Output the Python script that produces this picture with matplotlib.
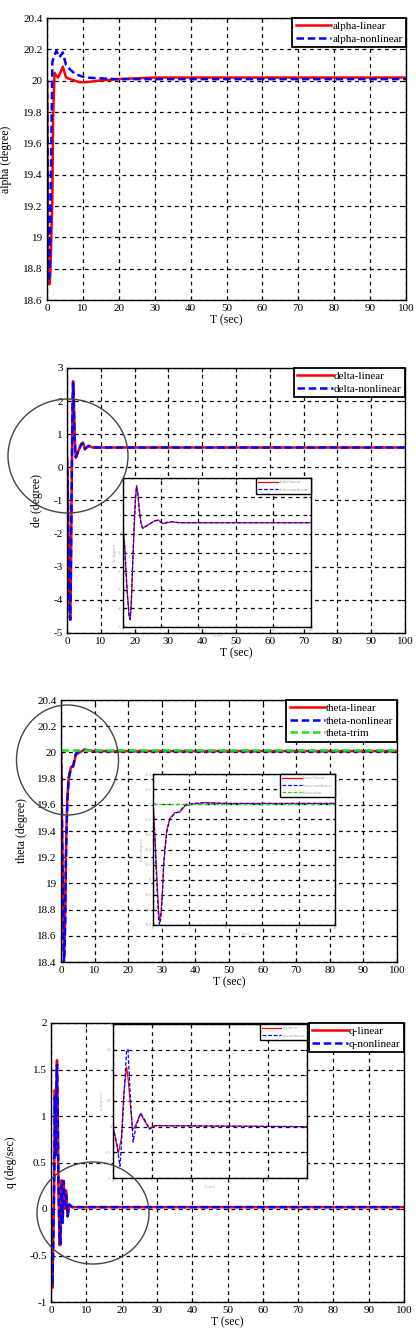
import numpy as np
import matplotlib.pyplot as plt
from matplotlib.patches import Ellipse
from matplotlib.ticker import FormatStrFormatter

plt.rcParams['font.family'] = ['Liberation Serif', 'DejaVu Serif']

# alpha
alpha_t = [0, 0.3, 0.65, 0.9, 1.2, 1.5, 1.7, 2.1, 2.6, 3.1, 3.7, 4.4, 5.3, 6.5, 9.0, 10.8, 14.5, 20, 30, 100]
alpha_lin = [20.0, 18.85, 18.7, 18.75, 19.0, 19.26, 19.76, 20.05, 20.03, 20.02, 20.05, 20.09, 20.02, 20.01, 19.99, 19.99, 20.0, 20.01, 20.02, 20.02]
alpha_nl_t = [0, 0.25, 0.5, 0.8, 1.1, 1.5, 2.0, 2.6, 3.5, 4.4, 5.3, 6.5, 8.0, 10.8, 19, 100]
alpha_nl = [20.0, 19.3, 18.72, 18.8, 19.4, 20.12, 20.16, 20.19, 20.15, 20.18, 20.1, 20.07, 20.04, 20.02, 20.01, 20.01]

# delta
delta_t = [0, 0.2, 0.4, 0.6, 0.8, 0.95, 1.1, 1.3, 1.5, 1.65, 1.8, 2.0, 2.2, 2.4, 2.6, 3.0, 3.6, 4.2, 4.7, 5.3, 5.9, 6.5, 7.5, 100]
delta_lin = [0.3, -0.5, -2.0, -3.3, -4.3, -4.6, -3.8, -1.5, 0.5, 1.8, 2.6, 2.1, 1.2, 0.6, 0.3, 0.4, 0.55, 0.7, 0.75, 0.55, 0.6, 0.65, 0.6, 0.6]
delta_nl = [0.3, -0.5, -2.1, -3.4, -4.4, -4.6, -3.7, -1.4, 0.6, 1.9, 2.55, 2.0, 1.1, 0.55, 0.3, 0.4, 0.55, 0.7, 0.72, 0.55, 0.62, 0.65, 0.6, 0.6]

# theta
theta_t = [0, 0.15, 0.3, 0.45, 0.6, 0.75, 0.9, 1.1, 1.3, 1.45, 1.65, 1.9, 2.3, 3.0, 3.6, 3.9, 4.4, 5.5, 7.0, 10, 100]
theta_lin = [20.0, 19.8, 19.5, 19.2, 18.9, 18.62, 18.45, 18.57, 18.85, 19.2, 19.43, 19.66, 19.81, 19.89, 19.89, 19.92, 19.98, 20.0, 20.02, 20.01, 20.01]
theta_nl = [20.0, 19.75, 19.45, 19.1, 18.8, 18.5, 18.4, 18.5, 18.8, 19.15, 19.4, 19.63, 19.8, 19.88, 19.9, 19.93, 19.99, 20.01, 20.02, 20.01, 20.01]
trim_t = [0, 100]
theta_trim = [20.02, 20.02]

# q (main)
q_t = [0, 0.2, 0.4, 0.65, 0.9, 1.1, 1.3, 1.5, 1.7, 1.9, 2.1, 2.4, 2.7, 3.0, 3.3, 3.6, 3.9, 4.3, 4.7, 5.2, 6.0, 100]
q_lin = [0, -0.6, -0.85, -0.3, 0.3, 1.28, 0.6, 1.3, 1.6, 1.03, 0.3, -0.39, -0.35, 0.31, -0.1, 0.3, 0.0, 0.2, -0.05, 0.04, 0.02, 0.02]
q_nl = [0, -0.55, -0.82, -0.35, 0.25, 1.2, 0.55, 1.25, 1.55, 1.05, 0.35, -0.3, -0.38, 0.25, -0.15, 0.3, 0.05, 0.15, -0.08, 0.05, 0.02, 0.02]
# q (inset)
qi_t = [0, 0.34, 0.69, 0.9, 1.1, 1.33, 1.55, 1.76, 1.97, 2.19, 2.53, 2.83, 3.13, 3.56, 4.1, 4.7, 5.4, 25]
qi_lin = [0, -0.25, -0.52, -0.36, -0.2, 0.5, 0.9, 1.16, 0.9, 0.52, -0.06, 0.0, 0.1, 0.26, 0.1, -0.03, 0.02, 0.0]
qi_nl_t = [0, 0.45, 0.9, 1.1, 1.4, 1.76, 1.93, 2.1, 2.3, 2.6, 2.95, 3.56, 4.1, 4.7, 5.4, 25]
qi_nl = [0, -0.3, -0.77, -0.3, 0.55, 1.5, 1.5, 0.97, 0.39, -0.3, 0.0, 0.26, 0.13, -0.05, 0.02, 0.0]

x_ticks = np.arange(0, 101, 10)
inset_xticks = np.arange(0, 26, 5)

W, H = 416, 1332
fig = plt.figure(figsize=(W / 100, H / 100), dpi=100)


def box(x0, y0, x1, y1):
    return [x0 / W, 1 - y1 / H, (x1 - x0) / W, (y1 - y0) / H]


GRID = dict(color='black', linestyle=(0, (3, 3)), linewidth=0.9)
RED = dict(color='red', linewidth=1.8)
BLUE = dict(color='blue', linewidth=1.8, dashes=(3, 1.5))
GREEN = dict(color='#22dd22', linewidth=1.8, dashes=(3, 1.5))


def style_main(ax, ylim, yticks, ylabel, lx):
    ax.set_xlim(0, 100)
    ax.set_ylim(*ylim)
    ax.set_xticks(x_ticks)
    ax.set_yticks(yticks)
    ax.yaxis.set_major_formatter(FormatStrFormatter('%g'))
    ax.tick_params(direction='in', length=3, top=True, right=True, labelsize=8, pad=3)
    ax.grid(True, **GRID)
    ax.set_xlabel('T (sec)', fontsize=8.5, labelpad=1)
    ax.set_ylabel(ylabel, fontsize=8.5)
    ax.yaxis.set_label_coords(lx, 0.5)
    for s in ax.spines.values():
        s.set_linewidth(1.0)
    leg = ax.legend(loc='upper right', bbox_to_anchor=(1, 1), borderaxespad=0,
                    fontsize=8, fancybox=False, framealpha=1, edgecolor='black',
                    handlelength=3.2, handletextpad=0.1, borderpad=0.3, labelspacing=0.25)
    leg.get_frame().set_linewidth(1.3)
    leg.set_zorder(10)


def style_inset(ax, ylim, yticks, ylabel):
    ax.set_xlim(0, 25)
    ax.set_ylim(*ylim)
    ax.set_xticks(inset_xticks)
    ax.set_yticks(yticks)
    ax.yaxis.set_major_formatter(FormatStrFormatter('%g'))
    ax.tick_params(direction='in', length=1.5, top=True, right=True, labelsize=3,
                   labelcolor='#aaaaaa', pad=1)
    ax.grid(True, **GRID)
    ax.set_xlabel('T (sec)', fontsize=3, color='#aaaaaa', labelpad=0.5)
    ax.set_ylabel(ylabel, fontsize=3, color='#aaaaaa', labelpad=0.5)
    for s in ax.spines.values():
        s.set_linewidth(1.0)
    leg = ax.legend(loc='upper right', bbox_to_anchor=(1, 1), borderaxespad=0,
                    fontsize=3.5, fancybox=False, framealpha=1, edgecolor='black',
                    handlelength=4, handletextpad=0.3, borderpad=0.4, labelspacing=0.6)
    for t in leg.get_texts():
        t.set_color('#aaaaaa')
    leg.get_frame().set_linewidth(1.0)


def circle(cx, cy, rx, ry):
    e = Ellipse((cx / W, 1 - cy / H), 2 * rx / W, 2 * ry / H, transform=fig.transFigure,
                fill=False, edgecolor='#444444', linewidth=1.0, zorder=20)
    fig.patches.append(e)


# panel 1: alpha
ax1 = fig.add_axes(box(47, 18, 406, 300))
ax1.plot(alpha_t, alpha_lin, label='alpha-linear', **RED)
ax1.plot(alpha_nl_t, alpha_nl, label='alpha-nonlinear', **BLUE)
style_main(ax1, (18.6, 20.4), np.arange(18.6, 20.41, 0.2), 'alpha (degree)', -0.097)

# panel 2: delta
ax2 = fig.add_axes(box(67, 368, 405, 633))
ax2.plot(delta_t, delta_lin, label='delta-linear', **RED)
ax2.plot(delta_t, delta_nl, label='delta-nonlinear', **BLUE)
style_main(ax2, (-5, 3), np.arange(-5, 4, 1), 'de (degree)', -0.071)

in2 = fig.add_axes(box(123, 478, 311, 627))
in2.plot(delta_t, delta_lin, color='red', linewidth=0.9, label='delta-linear')
in2.plot(delta_t, delta_nl, color='blue', linewidth=0.9, dashes=(3, 1.5), label='delta-nonlinear')
style_inset(in2, (-5, 3), np.arange(-5, 4, 1), 'de (degree)')
circle(68, 456, 60, 57)

# panel 3: theta
ax3 = fig.add_axes(box(61, 700, 397, 962))
ax3.plot(theta_t, theta_lin, label='theta-linear', **RED)
ax3.plot(theta_t, theta_nl, label='theta-nonlinear', **BLUE)
ax3.plot(trim_t, theta_trim, label='theta-trim', **GREEN)
style_main(ax3, (18.4, 20.4), np.arange(18.4, 20.41, 0.2), 'theta (degree)', -0.098)

in3 = fig.add_axes(box(153, 774, 335, 925))
in3.plot(theta_t, theta_lin, color='red', linewidth=0.9, label='theta-linear')
in3.plot(theta_t, theta_nl, color='blue', linewidth=0.9, dashes=(3, 1.5), label='theta-nonlinear')
in3.plot(trim_t, [20.0, 20.0], color='#22dd22', linewidth=0.9, dashes=(3, 1.5), label='theta-trim')
style_inset(in3, (18.4, 20.4), np.arange(18.4, 20.41, 0.2), 'theta (degree)')
circle(67.5, 760, 51, 55)

# panel 4: q
ax4 = fig.add_axes(box(51, 1023, 404, 1302))
ax4.plot(q_t, q_lin, label='q-linear', **RED)
ax4.plot(q_t, q_nl, label='q-nonlinear', **BLUE)
style_main(ax4, (-1, 2), np.arange(-1, 2.01, 0.5), 'q (deg/sec)', -0.096)

in4 = fig.add_axes(box(113, 1024, 307, 1178))
in4.plot(qi_t, qi_lin, color='red', linewidth=0.9, label='q-linear')
in4.plot(qi_nl_t, qi_nl, color='blue', linewidth=0.9, dashes=(3, 1.5), label='q-nonlinear')
style_inset(in4, (-1, 2), np.arange(-1, 2.01, 0.5), 'q (deg/sec)')
circle(93, 1213, 56, 51)

fig.savefig('out.png', dpi=100)
